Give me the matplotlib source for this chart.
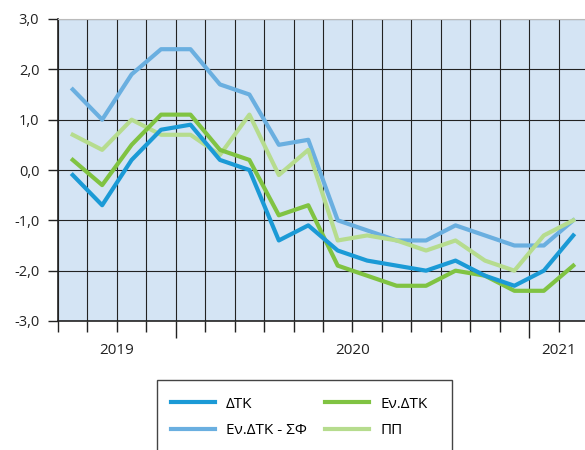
import numpy as np
import matplotlib.pyplot as plt
from matplotlib.patches import Rectangle

plt.rcParams['font.family'] = ['Open Sans', 'DejaVu Sans']

# monthly values, 18 points
dtk      = [-0.1, -0.7, 0.2, 0.8, 0.9, 0.2, 0.0, -1.4, -1.1, -1.6, -1.8, -1.9, -2.0, -1.8, -2.1, -2.3, -2.0, -1.3]
ev_dtk_sf = [1.6, 1.0, 1.9, 2.4, 2.4, 1.7, 1.5, 0.5, 0.6, -1.0, -1.2, -1.4, -1.4, -1.1, -1.3, -1.5, -1.5, -1.0]
ev_dtk   = [0.2, -0.3, 0.5, 1.1, 1.1, 0.4, 0.2, -0.9, -0.7, -1.9, -2.1, -2.3, -2.3, -2.0, -2.1, -2.4, -2.4, -1.9]
pp       = [0.7, 0.4, 1.0, 0.7, 0.7, 0.3, 1.1, -0.1, 0.4, -1.4, -1.3, -1.4, -1.6, -1.4, -1.8, -2.0, -1.3, -1.0]

years = ['2019', '2020', '2021']
year_pos = [1.5, 9.5, 16.5]
year_ticks = [3.5, 15.5]
yticks = [-3, -2, -1, 0, 1, 2, 3]
ylabels = ['-3,0', '-2,0', '-1,0', '0,0', '1,0', '2,0', '3,0']

x = np.arange(len(dtk))

fig = plt.figure(figsize=(5.85, 4.5), dpi=100)
ax = fig.add_axes([58/585, 1-321/450, 530/585, 302/450])
ax.set_facecolor('#d4e4f4')

lw = 3.0
l1, = ax.plot(x, dtk, color='#1b9ad6', lw=lw, label='ΔΤΚ', zorder=5)
l2, = ax.plot(x, ev_dtk_sf, color='#6aafe0', lw=lw, label='Εν.ΔΤΚ - ΣΦ', zorder=3)
l3, = ax.plot(x, ev_dtk, color='#80c342', lw=lw, label='Εν.ΔΤΚ', zorder=4)
l4, = ax.plot(x, pp, color='#b6dc8e', lw=lw, label='ΠΠ', zorder=3.5)

ax.set_xlim(-0.5, len(dtk) - 0.5)
ax.set_ylim(-3, 3)
ax.set_yticks(yticks)
ax.set_yticklabels(ylabels, fontsize=10.5, color='#222222')
ax.set_xticks(np.arange(-0.5, len(dtk), 1.0), minor=True)
ax.set_xticks(year_ticks)
ax.set_xticklabels([])
ax.tick_params(axis='x', which='minor', length=8, width=1, color='#222222')
ax.tick_params(axis='x', which='major', length=12.5, width=1, color='#222222')
ax.tick_params(axis='y', length=7.5, width=1, color='#222222', pad=6)
ax.grid(which='both', axis='x', color='#222222', lw=0.8, zorder=1)
ax.grid(which='major', axis='y', color='#222222', lw=0.8, zorder=1)
ax.set_axisbelow(True)
for s in ['left', 'bottom']:
    ax.spines[s].set_color('#222222')
    ax.spines[s].set_linewidth(1.2)
ax.spines['top'].set_color('#bbbbbb')
ax.spines['right'].set_visible(False)

for p, yr in zip(year_pos, years):
    ax.text(p, -3.59, yr, ha='center', va='center', fontsize=11, color='#222222')

# legend box cut off at the bottom
fig.patches.append(Rectangle((157/585, -0.05), 295/585, 1.05 - 380/450,
                             transform=fig.transFigure, fill=False,
                             edgecolor='#444444', lw=1))
fig.legend(handles=[l1, l2, l3, l4], loc='upper left', ncol=2,
           bbox_to_anchor=(157/585, 1-383/450), frameon=False,
           fontsize=11, handlelength=2.9, handletextpad=0.7,
           columnspacing=1.2, labelspacing=0.75)

fig.savefig('out.png', dpi=100)
